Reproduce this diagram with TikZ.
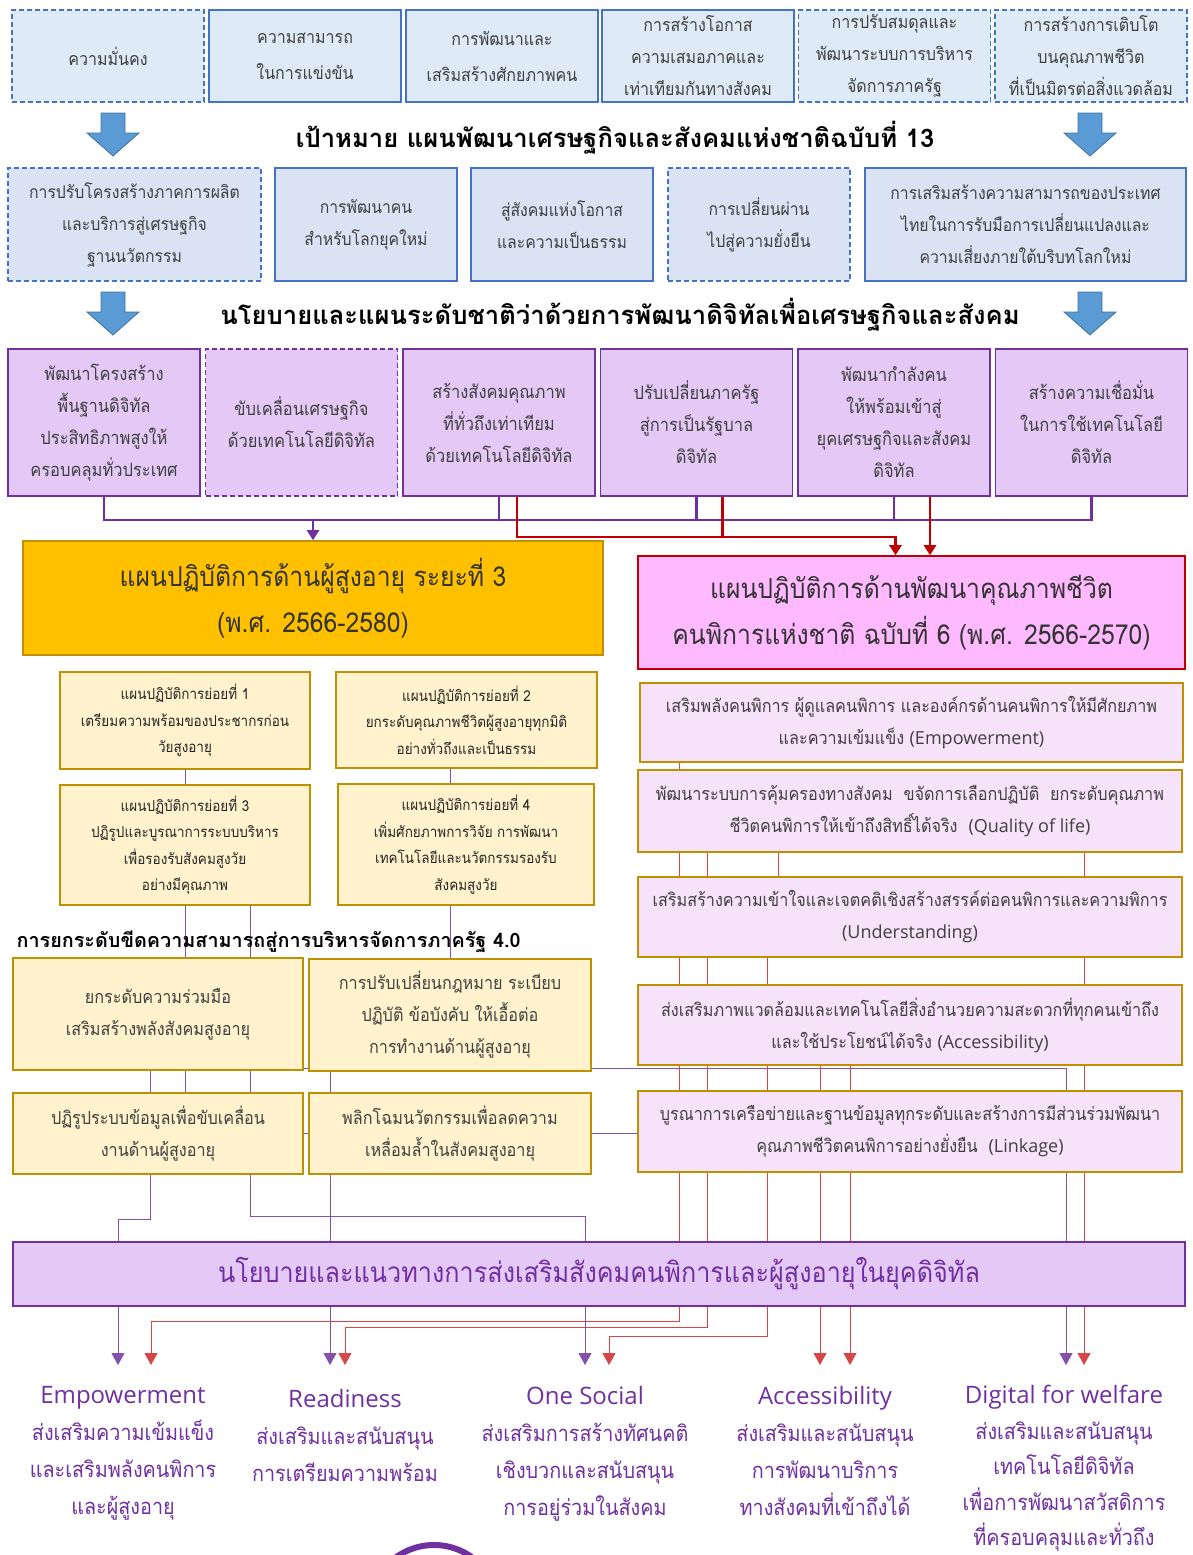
\documentclass[tikz,border=0pt]{standalone}
\usepackage{fontspec}
\newfontfamily\thai[Script=Thai,FakeStretch=0.9]{Loma}
\newfontfamily\thaiw[Script=Thai]{Loma}
\newfontfamily\enfont{Open Sans}
\usetikzlibrary{arrows.meta}
\definecolor{blueline}{RGB}{68,114,196}
\definecolor{goalfill}{RGB}{222,235,247}
\definecolor{stratfill}{RGB}{218,227,243}
\definecolor{arrowblue}{RGB}{91,155,213}
\definecolor{arrowedge}{RGB}{65,113,156}
\definecolor{purpline}{RGB}{112,48,160}
\definecolor{purpfill}{RGB}{228,200,246}
\definecolor{goldline}{RGB}{191,144,0}
\definecolor{goldfill}{RGB}{255,192,0}
\definecolor{creamfill}{RGB}{255,242,204}
\definecolor{pinkfill}{RGB}{255,185,255}
\definecolor{pinklight}{RGB}{246,226,249}
\definecolor{darkred}{RGB}{192,0,0}
\definecolor{thinred}{RGB}{214,70,70}
\definecolor{greytext}{RGB}{64,64,64}
\pgfdeclarelayer{bg}
\pgfsetlayers{bg,main}
\tikzset{
  box/.style={draw, align=center, inner sep=0pt},
  dashbox/.style={dash pattern=on 5pt off 3pt},
  goal/.style={box, draw=blueline, fill=goalfill, line width=1.6pt, text=greytext,
    minimum width=192, minimum height=92, font=\thai\fontsize{17.8}{32}\selectfont},
  strat/.style={box, draw=blueline, fill=stratfill, line width=1.6pt, text=greytext,
    minimum width=182, minimum height=113, font=\thai\fontsize{17.5}{32}\selectfont},
  plan/.style={box, draw=purpline, fill=purpfill, line width=1.8pt, text=greytext,
    minimum width=192, minimum height=147, font=\thai\fontsize{18.3}{32}\selectfont},
  heading/.style={font=\thaiw\bfseries\fontsize{25.6}{30}\selectfont},
  bigbox/.style={box, line width=1.6pt, text=black!80, font=\thai\fontsize{27.5}{46}\selectfont},
  subplan/.style={box, draw=goldline, fill=creamfill, line width=1.8pt, text=black!85,
    font=\thai\fontsize{15}{26.5}\selectfont},
  reform/.style={box, draw=goldline, fill=creamfill, line width=2.4pt, text=greytext,
    font=\thai\fontsize{18}{32}\selectfont},
  target/.style={box, draw=goldline, fill=pinklight, line width=2.2pt, text=greytext,
    minimum width=544, minimum height=80, font=\thai\fontsize{18}{32}\selectfont},
  policy/.style={box, draw=purpline, fill=purpfill, line width=2pt, text=purpline,
    font=\thai\fontsize{28}{32}\selectfont},
  outcome/.style={align=center, anchor=north, inner sep=0pt, text=purpline,
    font=\thai\fontsize{22}{37}\selectfont},
  purpbus/.style={draw=purpline, line width=2.6pt},
  redbus/.style={draw=darkred, line width=2.6pt},
  thinpurp/.style={draw=purpline!85, line width=1pt},
  thinred/.style={draw=thinred, line width=1pt},
  tip/.style={-{Triangle[width=13pt,length=12pt]}},
  blockdown/.pic={
    \filldraw[fill=arrowblue, draw=arrowedge, line width=0.8pt]
      (-12,0) -- (12,0) -- (12,20) -- (26,20) -- (0,43) -- (-26,20) -- (-12,20) -- cycle;}
}
\newcommand{\en}[1]{{\enfont #1}}
\newcommand{\entitle}[1]{{\enfont\fontsize{24}{37}\selectfont #1}}

\begin{document}
\begin{tikzpicture}[x=1pt,y=-1pt]
\useasboundingbox (0,0) rectangle (1192,1555);

% goals of the 13th plan
\node[goal,dashbox] (g1) at (108,56) {ความมั่นคง};
\node[goal] (g2) at (305,56) {ความสามารถ\\[4pt]ในการแข่งขัน};
\node[goal] (g3) at (502,56) {การพัฒนาและ\\[4pt]เสริมสร้างศักยภาพคน};
\node[goal] (g4) at (698,56) {การสร้างโอกาส\\ความเสมอภาคและ\\เท่าเทียมกันทางสังคม};
\node[goal,dashbox] (g5) at (894.5,56) {การปรับสมดุลและ\\พัฒนาระบบการบริหาร\\จัดการภาครัฐ};
\node[goal,dashbox] (g6) at (1091,56) {การสร้างการเติบโต\\บนคุณภาพชีวิต\\ที่เป็นมิตรต่อสิ่งแวดล้อม};

\pic at (113,113) {blockdown};
\pic at (1090,113) {blockdown};
\node[heading] (t1) at (615,138) {เป้าหมาย แผนพัฒนาเศรษฐกิจและสังคมแห่งชาติฉบับที่ 13};

% strategies
\node[strat,dashbox,minimum width=253] (s1) at (134.5,224.5) {การปรับโครงสร้างภาคการผลิต\\และบริการสู่เศรษฐกิจ\\ฐานนวัตกรรม};
\node[strat] (s2) at (366,224.5) {การพัฒนาคน\\สำหรับโลกยุคใหม่};
\node[strat] (s3) at (562,224.5) {สู่สังคมแห่งโอกาส\\และความเป็นธรรม};
\node[strat,dashbox] (s4) at (759,224.5) {การเปลี่ยนผ่าน\\ไปสู่ความยั่งยืน};
\node[strat,minimum width=321] (s5) at (1025.5,224.5) {การเสริมสร้างความสามารถของประเทศ\\ไทยในการรับมือการเปลี่ยนแปลงและ\\ความเสี่ยงภายใต้บริบทโลกใหม่};

\pic at (113,292) {blockdown};
\pic at (1090,292) {blockdown};
\node[heading] (t2) at (620,315) {นโยบายและแผนระดับชาติว่าด้วยการพัฒนาดิจิทัลเพื่อเศรษฐกิจและสังคม};

% digital plan
\node[plan] (p1) at (104,422.5) {พัฒนาโครงสร้าง\\พื้นฐานดิจิทัล\\ประสิทธิภาพสูงให้\\ครอบคลุมทั่วประเทศ};
\node[plan,dashbox] (p2) at (301.5,422.5) {ขับเคลื่อนเศรษฐกิจ\\ด้วยเทคโนโลยีดิจิทัล};
\node[plan] (p3) at (499,422.5) {สร้างสังคมคุณภาพ\\ที่ทั่วถึงเท่าเทียม\\ด้วยเทคโนโลยีดิจิทัล};
\node[plan] (p4) at (696.5,422.5) {ปรับเปลี่ยนภาครัฐ\\สู่การเป็นรัฐบาล\\ดิจิทัล};
\node[plan] (p5) at (894,422.5) {พัฒนากำลังคน\\ให้พร้อมเข้าสู่\\ยุคเศรษฐกิจและสังคม\\ดิจิทัล};
\node[plan] (p6) at (1091.5,422.5) {สร้างความเชื่อมั่น\\ในการใช้เทคโนโลยี\\ดิจิทัล};

% two action plans
\node[bigbox,fill=goldfill,draw=goldline,minimum width=580,minimum height=114] (elder) at (313,598)
  {แผนปฏิบัติการด้านผู้สูงอายุ ระยะที่ 3\\(พ.ศ. 2566-2580)};
\node[bigbox,fill=pinkfill,draw=darkred,minimum width=547,minimum height=113] (disab) at (911.5,612.5)
  {แผนปฏิบัติการด้านพัฒนาคุณภาพชีวิต\\คนพิการแห่งชาติ ฉบับที่ 6 (พ.ศ. 2566-2570)};

\draw[purpbus] (p1.south) -- ++(0,23) coordinate (busL) -| (p6.south);
\foreach \n in {p3,p4,p5}
  \draw[purpbus] (\n.south) -- (\n.south |- busL);
\draw[purpbus,-{Triangle[width=12pt,length=10pt]}] (elder.north |- busL) -- (elder.north);
\draw[redbus,-{Triangle[width=12pt,length=10pt]}] ([xshift=18]p3.south) -- ++(0,40) coordinate (redL)
  -| ([xshift=-16]disab.north);
\draw[redbus] ([xshift=26]p4.south) -- ([xshift=26]p4.south |- redL);
\draw[redbus,-{Triangle[width=12pt,length=10pt]}] ([xshift=36]p5.south) -- ([xshift=36]p5.south |- disab.north);

% elderly sub plans
\node[subplan,minimum width=250,minimum height=97] (y1) at (185,720.5)
  {แผนปฏิบัติการย่อยที่ 1\\เตรียมความพร้อมของประชากรก่อน\\วัยสูงอายุ};
\node[subplan,minimum width=261,minimum height=96] (y2) at (466.5,720)
  {แผนปฏิบัติการย่อยที่ 2\\ยกระดับคุณภาพชีวิตผู้สูงอายุทุกมิติ\\อย่างทั่วถึงและเป็นธรรม};
\node[subplan,minimum width=250,minimum height=120] (y3) at (185,845)
  {แผนปฏิบัติการย่อยที่ 3\\ปฏิรูปและบูรณาการระบบบริหาร\\เพื่อรองรับสังคมสูงวัย\\อย่างมีคุณภาพ};
\node[subplan,minimum width=256,minimum height=121] (y4) at (466,844.5)
  {แผนปฏิบัติการย่อยที่ 4\\เพิ่มศักยภาพการวิจัย การพัฒนา\\เทคโนโลยีและนวัตกรรมรองรับ\\สังคมสูงวัย};

\node[heading,anchor=west,font=\thaiw\bfseries\fontsize{19.8}{24}\selectfont] (h3) at (13,942)
  {การยกระดับขีดความสามารถสู่การบริหารจัดการภาครัฐ 4.0};

\node[reform,minimum width=290,minimum height=112] (z1) at (158,1014) {ยกระดับความร่วมมือ\\เสริมสร้างพลังสังคมสูงอายุ};
\node[reform,minimum width=282,minimum height=112] (z2) at (450,1015) {การปรับเปลี่ยนกฎหมาย ระเบียบ\\ปฏิบัติ ข้อบังคับ ให้เอื้อต่อ\\การทำงานด้านผู้สูงอายุ};
\node[reform,minimum width=290,minimum height=81] (z3) at (158,1133.5) {ปฏิรูประบบข้อมูลเพื่อขับเคลื่อน\\งานด้านผู้สูงอายุ};
\node[reform,minimum width=282,minimum height=81] (z4) at (450,1133.5) {พลิกโฉมนวัตกรรมเพื่อลดความ\\เหลื่อมล้ำในสังคมสูงอายุ};

% disability targets
\node[target,minimum width=543,minimum height=79] (q1) at (911.5,722.5)
  {เสริมพลังคนพิการ ผู้ดูแลคนพิการ และองค์กรด้านคนพิการให้มีศักยภาพ\\และความเข้มแข็ง \en{(Empowerment)}};
\node[target,minimum height=82] (q2) at (910,811)
  {พัฒนาระบบการคุ้มครองทางสังคม~~ขจัดการเลือกปฏิบัติ~~ยกระดับคุณภาพ\\ชีวิตคนพิการให้เข้าถึงสิทธิ์ได้จริง~~\en{(Quality of life)}};
\node[target] (q3) at (910,917)
  {เสริมสร้างความเข้าใจและเจตคติเชิงสร้างสรรค์ต่อคนพิการและความพิการ\\\en{(Understanding)}};
\node[target] (q4) at (910,1025)
  {ส่งเสริมภาพแวดล้อมและเทคโนโลยีสิ่งอำนวยความสะดวกที่ทุกคนเข้าถึง\\และใช้ประโยชน์ได้จริง \en{(Accessibility)}};
\node[target,minimum height=81] (q5) at (910,1131.5)
  {บูรณาการเครือข่ายและฐานข้อมูลทุกระดับและสร้างการมีส่วนร่วมพัฒนา\\คุณภาพชีวิตคนพิการอย่างยั่งยืน~~\en{(Linkage)}};

% policy and its five outcomes
\node[policy,minimum width=1172,minimum height=64] (pol) at (599,1274)
  {นโยบายและแนวทางการส่งเสริมสังคมคนพิการและผู้สูงอายุในยุคดิจิทัล};

\coordinate (tEmpP) at (118,1365);
\coordinate (tEmpR) at (151,1365);
\coordinate (tReadP) at (330,1365);
\coordinate (tReadR) at (345,1365);
\coordinate (tOneP) at (585,1365);
\coordinate (tOneR) at (609,1365);
\coordinate (tAccR1) at (820,1365);
\coordinate (tAccR2) at (850,1365);
\coordinate (tDigP) at (1066,1365);
\coordinate (tDigR) at (1084,1365);

\begin{pgfonlayer}{bg}
  \draw[thinpurp] (y1.south) -- (y1.south |- z3.north);
  \draw[thinpurp] (z2.north |- y2.south) -- (z2.north);
  \draw[thinpurp,tip] ([xshift=65]y3.south) -- ++(0,311) -| (tOneP);
  \draw[thinpurp,tip] ([xshift=-8]z1.south) -- ++(0,148) -| (tEmpP);
  \draw[thinpurp,tip] ([xshift=-120]z2.south) -- (tReadP);
  \draw[thinpurp,tip] ([yshift=-54]z1.east) -| (tDigP);
  \draw[thinpurp] (z3.east) -- (z3.east -| q5.west);
  \draw[thinred,tip] ([xshift=-232]q1.south) -- ++(0,558) -| (tEmpR);
  \draw[thinred,tip] ([xshift=-203]q2.south) -- ++(0,474) -| (tReadR);
  \draw[thinred] ([xshift=-132]q2.south) -- ([xshift=-132]q3.north);
  \draw[thinred,tip] ([xshift=-143]q3.south) -- ++(0,378) -| (tOneR);
  \draw[thinred,tip] ([xshift=174]q2.south) -- (tDigR);
  \draw[thinred,tip] ([xshift=-90]q4.south) -- (tAccR1);
  \draw[thinred,tip] ([xshift=-60]q4.south) -- (tAccR2);
\end{pgfonlayer}

\node[outcome] (oEmp) at (123,1386) {\entitle{Empowerment}\\ส่งเสริมความเข้มแข็ง\\และเสริมพลังคนพิการ\\และผู้สูงอายุ};
\node[outcome] (oRead) at (345,1389) {\entitle{Readiness}\\ส่งเสริมและสนับสนุน\\การเตรียมความพร้อม};
\node[outcome] (oOne) at (585,1386) {\entitle{One Social}\\ส่งเสริมการสร้างทัศนคติ\\เชิงบวกและสนับสนุน\\การอยู่ร่วมในสังคม};
\node[outcome] (oAcc) at (825,1386) {\entitle{Accessibility}\\ส่งเสริมและสนับสนุน\\การพัฒนาบริการ\\ทางสังคมที่เข้าถึงได้};
\node[outcome,font=\thai\fontsize{22}{35.5}\selectfont] (oDig) at (1064,1385)
  {\entitle{Digital for welfare}\\ส่งเสริมและสนับสนุน\\เทคโนโลยีดิจิทัล\\เพื่อการพัฒนาสวัสดิการ\\ที่ครอบคลุมและทั่วถึง};

\begin{scope}
  \clip (0,0) rectangle (1192,1555);
  \draw[purpline,line width=6pt] (434,1610) circle[radius=65pt];
\end{scope}
\end{tikzpicture}
\end{document}
